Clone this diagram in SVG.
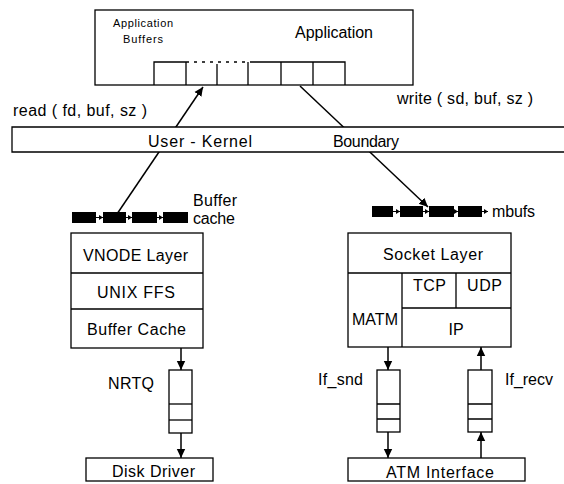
<svg xmlns="http://www.w3.org/2000/svg" width="564" height="484" viewBox="0 0 564 484">
  <style>
    text { font-family: "Liberation Sans", Arial, sans-serif; fill: #000; }
    .lbl { font-size: 16px; }
    .box { fill: #fff; stroke: #000; stroke-width: 1.3; }
    .ln { stroke: #000; stroke-width: 1.3; fill: none; }
    .blk { fill: #000; }
    .conn { stroke: #000; stroke-width: 1.5; fill: none; marker-end: url(#arrow); }
    .link { stroke: #000; stroke-width: 1; fill: none; marker-end: url(#tiny); }
  </style>
  <defs>
    <marker id="arrow" markerUnits="userSpaceOnUse" markerWidth="10" markerHeight="10" refX="9" refY="5" orient="auto">
      <path d="M0,0.8 L9,5 L0,9.2 z" fill="#000"/>
    </marker>
    <marker id="tiny" markerUnits="userSpaceOnUse" markerWidth="5" markerHeight="6" refX="4" refY="3" orient="auto">
      <path d="M0,0.5 L4,3 L0,5.5 z" fill="#000"/>
    </marker>
  </defs>

  <rect width="564" height="484" fill="#fff"/>

  <!-- connectors -->
  <g id="connectors">
    <line class="conn" x1="117" y1="214" x2="203" y2="87"/>
    <line class="conn" x1="300" y1="86" x2="428" y2="207"/>
    <line class="conn" x1="181" y1="348" x2="181" y2="370"/>
    <line class="conn" x1="181" y1="433" x2="181" y2="458"/>
    <line class="conn" x1="388" y1="347" x2="388" y2="370"/>
    <line class="conn" x1="388" y1="432" x2="388" y2="458"/>
    <line class="conn" x1="481" y1="458" x2="481" y2="432"/>
    <line class="conn" x1="481" y1="370" x2="481" y2="347"/>
  </g>

  <!-- application -->
  <g id="application">
    <rect class="box" x="95" y="10" width="318" height="75"/>
    <text x="113" y="27" style="font-size:11px" textLength="60" lengthAdjust="spacing">Application</text>
    <text x="123" y="43" style="font-size:11px" textLength="40" lengthAdjust="spacing">Buffers</text>
    <text x="295" y="38" style="font-size:16px" textLength="78" lengthAdjust="spacing">Application</text>
    <g id="app-buffers">
      <path class="ln" d="M154,85 V62 H186 M250,62 H345 V85 M186,62 V85 M217,64 V85 M248,62 V85 M281,62 V85 M313,62 V85"/>
      <path class="ln" d="M186,62 H250" stroke-dasharray="3 5" stroke-width="1"/>
    </g>
  </g>

  <!-- system calls -->
  <g id="syscalls">
    <text class="lbl" x="13" y="116" textLength="134" lengthAdjust="spacing">read ( fd, buf, sz )</text>
    <text class="lbl" x="397" y="104" textLength="136" lengthAdjust="spacing">write ( sd, buf, sz )</text>
  </g>

  <!-- user/kernel boundary -->
  <g id="boundary">
    <rect x="12" y="127" width="560" height="25" fill="#fff"/>
    <path class="ln" d="M566,127 H12 V152 H566"/>
    <text class="lbl" x="148" y="147" textLength="104" lengthAdjust="spacing">User - Kernel</text>
    <text class="lbl" x="333" y="147" textLength="66" lengthAdjust="spacing">Boundary</text>
  </g>

  <!-- buffer cache chain -->
  <g id="buffer-cache-chain">
    <rect class="blk" x="72" y="212" width="24" height="11"/>
    <rect class="blk" x="103" y="212" width="23" height="11"/>
    <rect class="blk" x="132" y="212" width="25" height="11"/>
    <rect class="blk" x="163" y="212" width="25" height="11"/>
    <line class="link" x1="96" y1="217.5" x2="103" y2="217.5"/>
    <line class="link" x1="126" y1="217.5" x2="132" y2="217.5"/>
    <line class="link" x1="157" y1="217.5" x2="163" y2="217.5"/>
    <text class="lbl" x="193" y="206" textLength="44" lengthAdjust="spacing">Buffer</text>
    <text class="lbl" x="193" y="224" textLength="42" lengthAdjust="spacing">cache</text>
  </g>

  <!-- file system stack -->
  <g id="fs-stack">
    <rect class="box" x="71" y="233" width="132" height="115"/>
    <path class="ln" d="M71,273 H203 M71,309 H203"/>
    <text class="lbl" x="83" y="261" textLength="105" lengthAdjust="spacing">VNODE Layer</text>
    <text class="lbl" x="97" y="298" textLength="78" lengthAdjust="spacing">UNIX FFS</text>
    <text class="lbl" x="87" y="335" textLength="99" lengthAdjust="spacing">Buffer Cache</text>
  </g>

  <!-- NRTQ queue -->
  <g id="nrtq">
    <rect class="box" x="169" y="370" width="23" height="63"/>
    <path class="ln" d="M169,404 H192"/>
    <path class="ln" d="M169,420 H192" stroke-width="1.6"/>
    <text class="lbl" x="108" y="389" textLength="46" lengthAdjust="spacing">NRTQ</text>
  </g>

  <!-- disk driver -->
  <g id="disk-driver">
    <rect class="box" x="86" y="458" width="127" height="23"/>
    <text class="lbl" x="112" y="477" textLength="83" lengthAdjust="spacing">Disk Driver</text>
  </g>

  <!-- mbuf chain -->
  <g id="mbuf-chain">
    <rect class="blk" x="372" y="206" width="21" height="11"/>
    <rect class="blk" x="400" y="206" width="23" height="11"/>
    <rect class="blk" x="429" y="206" width="25" height="11"/>
    <rect class="blk" x="458" y="206" width="24" height="11"/>
    <line class="link" x1="393" y1="211.5" x2="400" y2="211.5"/>
    <line class="link" x1="423" y1="211.5" x2="429" y2="211.5"/>
    <line class="link" x1="454" y1="211.5" x2="458" y2="211.5"/>
    <line class="link" x1="482" y1="211.5" x2="488" y2="211.5"/>
    <text class="lbl" x="492" y="217" textLength="43" lengthAdjust="spacing">mbufs</text>
  </g>

  <!-- socket / protocol stack -->
  <g id="net-stack">
    <rect class="box" x="348" y="233" width="163" height="114"/>
    <path class="ln" d="M348,273 H511 M402,273 V347 M456,273 V308 M402,308 H511"/>
    <text class="lbl" x="383" y="260" textLength="100" lengthAdjust="spacing">Socket Layer</text>
    <text class="lbl" x="413" y="291" textLength="33" lengthAdjust="spacing">TCP</text>
    <text class="lbl" x="467" y="291" textLength="35" lengthAdjust="spacing">UDP</text>
    <text class="lbl" x="352" y="325" textLength="46" lengthAdjust="spacing">MATM</text>
    <text class="lbl" x="456" y="335" text-anchor="middle">IP</text>
  </g>

  <!-- send queue -->
  <g id="if-snd">
    <rect class="box" x="377" y="370" width="23" height="62"/>
    <path class="ln" d="M377,404 H400 M377,419 H400"/>
    <text class="lbl" x="318" y="385" textLength="45" lengthAdjust="spacing">If_snd</text>
  </g>

  <!-- receive queue -->
  <g id="if-recv">
    <rect class="box" x="468" y="370" width="24" height="62"/>
    <path class="ln" d="M468,404 H492 M468,419 H492"/>
    <text class="lbl" x="505" y="385" textLength="48" lengthAdjust="spacing">If_recv</text>
  </g>

  <!-- ATM interface -->
  <g id="atm-interface">
    <rect class="box" x="348" y="458" width="177" height="23"/>
    <text class="lbl" x="386" y="478" textLength="108" lengthAdjust="spacing">ATM Interface</text>
  </g>
</svg>
